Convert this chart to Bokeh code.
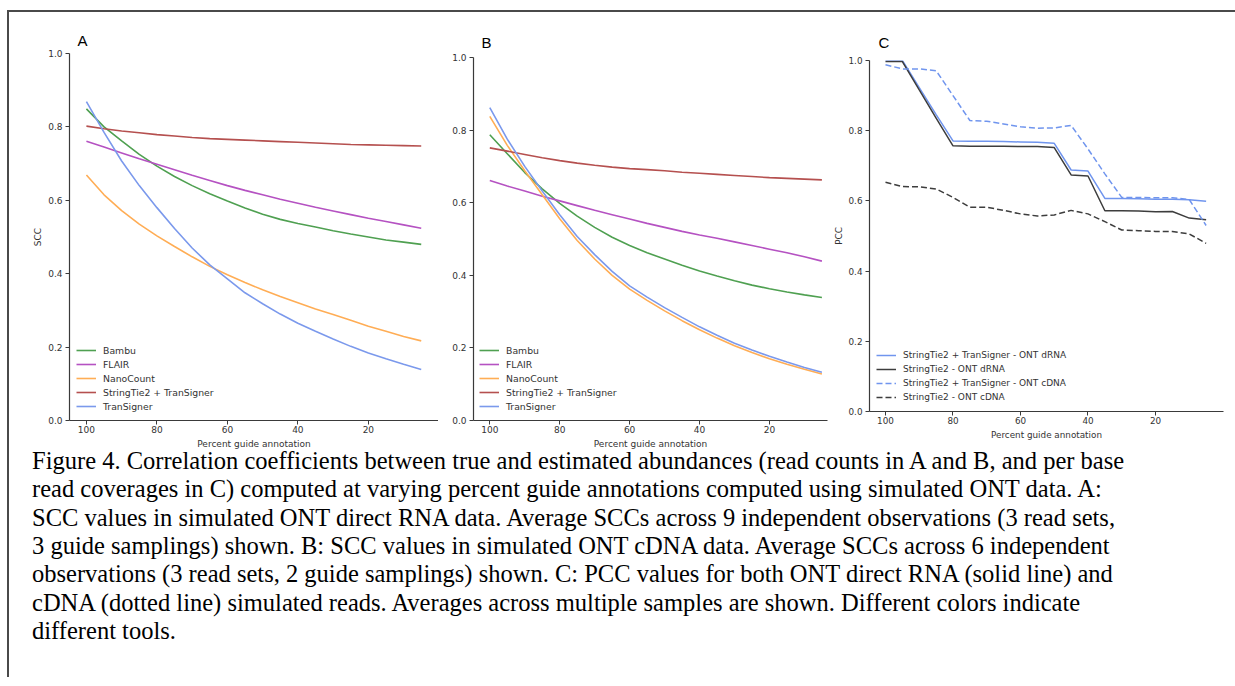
from bokeh.plotting import figure
from bokeh.models import (Range1d, FixedTicker, PrintfTickFormatter, Legend, LegendItem,
                          Div, BoxAnnotation, Spacer)
from bokeh.layouts import row, column
from bokeh.embed import file_html
from bokeh.resources import INLINE

# ---------------- data ----------------
pct = [100, 95, 90, 85, 80, 75, 70, 65, 60, 55, 50, 45, 40, 35, 30, 25, 20, 15, 10, 5]

# Panel A: simulated ONT direct RNA (SCC)
bambu_A = [0.849, 0.800, 0.762, 0.725, 0.693, 0.665, 0.640, 0.618, 0.598, 0.579,
           0.562, 0.548, 0.537, 0.527, 0.517, 0.508, 0.500, 0.492, 0.486, 0.480]
flair_A = [0.761, 0.745, 0.729, 0.713, 0.698, 0.683, 0.668, 0.654, 0.640, 0.627,
           0.615, 0.603, 0.592, 0.581, 0.571, 0.561, 0.551, 0.542, 0.533, 0.524]
nano_A = [0.669, 0.615, 0.572, 0.535, 0.503, 0.474, 0.446, 0.420, 0.397, 0.376,
          0.356, 0.338, 0.321, 0.304, 0.289, 0.273, 0.257, 0.243, 0.229, 0.217]
stts_A = [0.802, 0.795, 0.789, 0.784, 0.779, 0.775, 0.771, 0.768, 0.766, 0.764,
          0.762, 0.760, 0.758, 0.756, 0.754, 0.752, 0.751, 0.750, 0.749, 0.748]
trans_A = [0.869, 0.785, 0.707, 0.640, 0.580, 0.523, 0.470, 0.424, 0.386, 0.348,
           0.318, 0.290, 0.265, 0.243, 0.222, 0.202, 0.184, 0.168, 0.153, 0.139]

# Panel B: simulated ONT cDNA (SCC)
bambu_B = [0.787, 0.735, 0.683, 0.638, 0.598, 0.563, 0.532, 0.505, 0.482, 0.462,
           0.445, 0.428, 0.412, 0.398, 0.385, 0.373, 0.363, 0.354, 0.346, 0.339]
flair_B = [0.661, 0.646, 0.632, 0.618, 0.605, 0.592, 0.579, 0.567, 0.555, 0.543,
           0.532, 0.521, 0.511, 0.502, 0.492, 0.482, 0.472, 0.462, 0.451, 0.439]
nano_B = [0.838, 0.758, 0.688, 0.622, 0.556, 0.496, 0.445, 0.400, 0.362, 0.331,
          0.302, 0.275, 0.250, 0.227, 0.206, 0.187, 0.170, 0.155, 0.141, 0.128]
stts_B = [0.751, 0.742, 0.733, 0.724, 0.716, 0.709, 0.703, 0.698, 0.694, 0.691,
          0.688, 0.684, 0.681, 0.678, 0.675, 0.672, 0.669, 0.667, 0.665, 0.663]
trans_B = [0.862, 0.775, 0.700, 0.632, 0.567, 0.507, 0.457, 0.411, 0.371, 0.340,
           0.311, 0.284, 0.258, 0.235, 0.213, 0.194, 0.177, 0.161, 0.146, 0.133]

# Panel C: PCC of per-base read coverage
ts_drna = [1.000, 1.000, 0.923, 0.846, 0.771, 0.770, 0.770, 0.769, 0.768, 0.767,
           0.764, 0.688, 0.685, 0.607, 0.607, 0.606, 0.605, 0.605, 0.603, 0.599]
st_drna = [0.997, 0.997, 0.916, 0.836, 0.757, 0.756, 0.756, 0.756, 0.755, 0.755,
           0.752, 0.674, 0.671, 0.572, 0.572, 0.571, 0.569, 0.570, 0.551, 0.546]
ts_cdna = [0.988, 0.976, 0.976, 0.971, 0.900, 0.829, 0.827, 0.819, 0.811, 0.807,
           0.808, 0.815, 0.748, 0.677, 0.610, 0.610, 0.609, 0.609, 0.604, 0.530]
st_cdna = [0.653, 0.641, 0.640, 0.634, 0.610, 0.582, 0.582, 0.573, 0.563, 0.557,
           0.560, 0.573, 0.563, 0.541, 0.517, 0.515, 0.513, 0.513, 0.506, 0.479]

tools = ["Bambu", "FLAIR", "NanoCount", "StringTie2 + TranSigner", "TranSigner"]
tool_colors = ["#4fa051", "#b552c2", "#ffad55", "#b5504f", "#7b99ec"]
c_labels = ["StringTie2 + TranSigner - ONT dRNA", "StringTie2 - ONT dRNA",
            "StringTie2 + TranSigner - ONT cDNA", "StringTie2 - ONT cDNA"]
c_colors = ["#7095ee", "#3d3d3d", "#7095ee", "#3d3d3d"]
c_dashes = ["solid", "solid", "6 3", "6 3"]
x_ticks = [20, 40, 60, 80, 100]
y_ticks = [0.0, 0.2, 0.4, 0.6, 0.8, 1.0]

caption_lines = [
    "Figure 4. Correlation coefficients between true and estimated abundances (read counts in A and B, and per base",
    "read coverages in C) computed at varying percent guide annotations computed using simulated ONT data. A:",
    "SCC values in simulated ONT direct RNA data. Average SCCs across 9 independent observations (3 read sets,",
    "3 guide samplings) shown. B: SCC values in simulated ONT cDNA data. Average SCCs across 6 independent",
    "observations (3 read sets, 2 guide samplings) shown. C: PCC values for both ONT direct RNA (solid line) and",
    "cDNA (dotted line) simulated reads. Averages across multiple samples are shown. Different colors indicate",
    "different tools.",
]

AX = "#3a3a3a"
FONT = "DejaVu Sans"


def panel(letter, ylabel, x0, x1, fw, fh, bl, br, bt, bb, fsize, t_off, t_stand):
    p = figure(frame_width=fw, frame_height=fh,
               x_range=Range1d(x0, x1), y_range=Range1d(0, 1),
               output_backend="svg", toolbar_location=None,
               min_border_left=bl, min_border_right=br,
               min_border_top=bt, min_border_bottom=bb, margin=0)
    p.outline_line_color = None
    p.xgrid.visible = False
    p.ygrid.visible = False
    p.background_fill_color = "white"
    p.border_fill_color = "white"
    p.title.text = letter
    p.title.align = "left"
    p.title.offset = t_off
    p.title.standoff = t_stand
    p.title.text_font = "Liberation Sans"
    p.title.text_font_size = "15px"
    p.title.text_font_style = "normal"
    p.title.text_color = "black"
    for ax in (p.xaxis[0], p.yaxis[0]):
        ax.axis_line_color = AX
        ax.axis_line_width = 1.2
        ax.major_tick_line_color = AX
        ax.major_tick_out = 4
        ax.major_tick_in = 0
        ax.minor_tick_line_color = None
        ax.major_label_text_font = FONT
        ax.major_label_text_font_size = fsize
        ax.major_label_text_color = "#333333"
        ax.major_label_standoff = 3
        ax.axis_label_text_font = FONT
        ax.axis_label_text_font_size = fsize
        ax.axis_label_text_font_style = "normal"
        ax.axis_label_text_color = "#333333"
        ax.axis_label_standoff = 2
    p.xaxis.major_label_standoff = 1
    p.xaxis.axis_label_standoff = 3
    p.xaxis.ticker = FixedTicker(ticks=x_ticks)
    p.yaxis.ticker = FixedTicker(ticks=y_ticks)
    p.yaxis.formatter = PrintfTickFormatter(format="%.1f")
    p.xaxis.axis_label = "Percent guide annotation"
    if ylabel:
        p.yaxis.axis_label = ylabel
    return p


def legend(p, items, loc, fsize, h):
    lg = Legend(items=items, location=loc, padding=5, margin=0, spacing=0,
                label_height=h, glyph_height=h, glyph_width=20, label_standoff=7,
                label_text_font=FONT, label_text_font_size=fsize,
                label_text_color="#333333",
                background_fill_alpha=0, border_line_color=None)
    p.add_layout(lg)


# Panel A
pA = panel("A", "SCC", 104.8, 0.1, 369, 367, 60, 0, 41, 31, "9px", 8, 9)
itemsA = []
for name, col, ys in zip(tools, tool_colors, [bambu_A, flair_A, nano_A, stts_A, trans_A]):
    r = pA.line(pct, ys, line_color=col, line_width=1.6)
    itemsA.append(LegendItem(label=name, renderers=[r]))
legend(pA, itemsA, (7, 7), "9.3px", 14)

# Panel B (its y-axis title is cropped away in the original figure)
pB = panel("B", None, 104.66, 3.4, 354, 363, 35, 3, 41, 31, "9px", 8, 14)
itemsB = []
for name, col, ys in zip(tools, tool_colors, [bambu_B, flair_B, nano_B, stts_B, trans_B]):
    r = pB.line(pct, ys, line_color=col, line_width=1.6)
    itemsB.append(LegendItem(label=name, renderers=[r]))
legend(pB, itemsB, (6, 7), "9.3px", 14)

# Panel C
pC = panel("C", "PCC", 104.74, -0.15, 354, 351, 38, 12, 41, 40, "8.8px", 9, 19)
itemsC = []
for name, col, dash, ys in zip(c_labels, c_colors, c_dashes, [ts_drna, st_drna, ts_cdna, st_cdna]):
    r = pC.line(pct, ys, line_color=col, line_width=1.5, line_dash=dash)
    itemsC.append(LegendItem(label=name, renderers=[r]))
legend(pC, itemsC, (7, 7), "9px", 14)
pC.add_layout(BoxAnnotation(left=15, right=397, top=30, bottom=426,
                            left_units="canvas", right_units="canvas",
                            top_units="canvas", bottom_units="canvas",
                            fill_alpha=0, line_color="#e6e6e6", line_width=1.2,
                            level="underlay"))

cap_html = ('<div style="position:relative; top:-4px">'
            + "<br>".join(caption_lines) + "</div>")
cap = Div(text=cap_html, width=1226, height=226, margin=0,
          styles={"font-family": "'Liberation Serif', 'Times New Roman', serif",
                  "font-size": "24.53px", "line-height": "28.33px", "color": "black",
                  "padding-left": "23px", "padding-top": "0px",
                  "white-space": "nowrap", "box-sizing": "border-box"})

top = row(pA,
          column(Spacer(height=4, width=10, margin=0), pB, spacing=0, margin=0),
          column(Spacer(height=7, width=10, margin=0), pC, spacing=0, margin=0),
          spacing=0, margin=0)

root = column(top, cap, spacing=0,
              margin=(10, 0, 0, 7),
              styles={"border-left": "2px solid #4a4a4a", "border-top": "2px solid #4a4a4a"})

open("out.html", "w").write(file_html(root, INLINE))
